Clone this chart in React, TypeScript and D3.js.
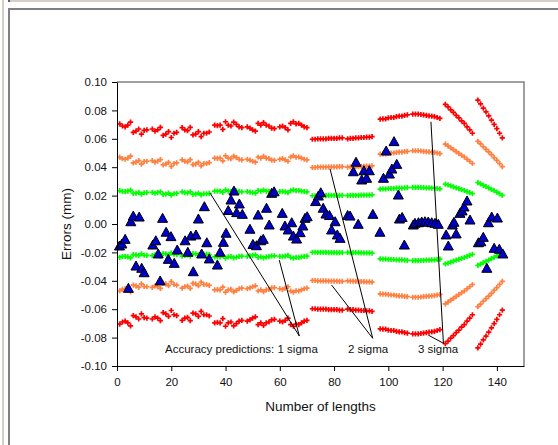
import React, { useEffect, useRef } from 'react'
import * as d3 from 'd3'

const W = 558
const H = 445

// measured errors (blue triangles)
const lengthX = [
  0.9, 1.8, 3.0, 4.2, 5.1, 6.0, 7.0, 8.2, 9.1, 10.0,
  13.2, 14.3, 15.2, 15.9, 16.8, 18.1, 18.9, 19.9, 21.1, 22.2,
  25.1, 26.1, 27.2, 28.1, 29.1, 30.0, 31.2, 32.2, 33.1, 34.0,
  37.0, 38.0, 39.2, 40.2, 41.0, 42.0, 43.1, 44.1, 45.1, 46.2,
  49.0, 50.1, 51.4, 52.0, 53.0, 53.9, 55.1, 56.1, 57.0, 57.9,
  60.9, 61.9, 63.1, 64.4, 65.0, 66.2, 67.5, 68.5, 69.3, 70.1,
  73.2, 74.2, 75.1, 76.0, 77.0, 78.3, 79.1, 80.4, 81.2, 82.2,
  85.0, 85.9, 87.1, 88.1, 88.9, 90.2, 91.0, 92.0, 93.0, 94.3,
  96.9, 98.2, 99.2, 100.4, 101.3, 102.1, 103.1, 103.7, 104.1, 105.1,
  105.9, 109.2, 109.8, 111.1, 112.3, 113.5, 114.7, 116.0, 117.2, 118.4,
  121.3, 122.1, 123.6, 124.2, 125.0, 126.4, 127.2, 127.9, 129.0, 130.1,
  133.2, 134.1, 135.0, 136.3, 136.9, 138.1, 139.0, 140.2, 140.9, 142.2,
]
const errorY = [
  -0.0155, -0.0141, -0.0108, -0.0453, 0.0016, 0.0056, -0.0296, 0.0049, -0.0312, -0.0343,
  -0.0148, -0.0118, -0.0211, -0.0401, 0.004, -0.0058, -0.0249, -0.0089, -0.0277, -0.0183,
  -0.0118, -0.0199, -0.0085, -0.0336, -0.0077, 0.0035, -0.0211, 0.0122, -0.0132, -0.0246,
  -0.0289, -0.0199, -0.0129, -0.0065, 0.0095, 0.0169, 0.0232, 0.008, 0.0141, 0.0068,
  -0.0037, -0.0144, -0.0153, 0.0063, -0.0118, -0.0108, 0.0111, -0.0007, 0.0216, 0.0227,
  0.0075, -0.0014, -0.0042, 0.0009, -0.0085, -0.0106, -0.0061, -0.0014, 0.004, 0.0051,
  0.0158, 0.0197, 0.022, 0.0111, 0.007, 0.006, -0.0042, 0.0016, -0.0077, -0.0101,
  0.006, 0.0056, 0.0368, 0.0435, -0.0002, 0.031, 0.0375, 0.0322, 0.0375, 0.0068,
  -0.0058, 0.0322, 0.0514, 0.0352, 0.0387, 0.058, 0.042, 0.0204, 0.0035, 0.0046,
  -0.0148, -0.0007, 0.0005, 0.0009, 0.0014, 0.0016, 0.0014, 0.0009, 0.0005, -0.0002,
  -0.0077, -0.0155, -0.0007, 0.0012, -0.007, 0.0075, 0.0092, 0.012, 0.0162, 0.0028,
  -0.0132, -0.0125, -0.0094, -0.0312, 0.0009, 0.0049, -0.0171, 0.0042, -0.0178, -0.0211,
]

// predicted accuracy: position and 1-sigma value
const bandX = [
  1, 2, 3, 4, 5, 6, 7, 8, 9, 10, 11,
  13, 14, 15, 16, 17, 18, 19, 20, 21, 22,
  24, 25, 26, 27, 28, 29, 30, 31, 32, 33, 34,
  36, 37, 38, 39, 40, 41, 42, 43, 44, 45, 46,
  48, 49, 50, 51, 52, 53, 54, 55, 56, 57, 58,
  60, 61, 62, 63, 64, 65, 66, 67, 68, 69, 70,
  72, 73, 74, 75, 76, 77, 78, 79, 80, 81, 82, 83,
  85, 86, 87, 88, 89, 90, 91, 92, 93, 94,
  97, 98, 99, 100, 101, 102, 103, 104, 105, 106, 107,
  109, 110, 111, 112, 113, 114, 115, 116, 117, 118, 119,
  121, 122, 123, 124, 125, 126, 127, 128, 129, 130, 131,
  133, 134, 135, 136, 137, 138, 139, 140, 141, 142,
]
const sigma = [
  0.0235, 0.023, 0.0228, 0.0232, 0.0239, 0.0215, 0.0218, 0.0223, 0.0211, 0.022, 0.0221,
  0.0223, 0.0218, 0.0221, 0.0227, 0.0208, 0.0211, 0.0217, 0.0203, 0.0213, 0.0215,
  0.0226, 0.0221, 0.0219, 0.0227, 0.0209, 0.0211, 0.0217, 0.0205, 0.0213, 0.0213, 0.0216,
  0.0232, 0.0231, 0.0232, 0.0222, 0.024, 0.0232, 0.023, 0.0239, 0.0234, 0.0228, 0.0226,
  0.0228, 0.0225, 0.0221, 0.0218, 0.0236, 0.0232, 0.0238, 0.0232, 0.023, 0.0225, 0.0224,
  0.0228, 0.023, 0.0226, 0.0221, 0.0236, 0.024, 0.0235, 0.0236, 0.0232, 0.0228, 0.0226,
  0.0199, 0.0199, 0.02, 0.02, 0.02, 0.02, 0.0201, 0.0201, 0.0201, 0.0201, 0.0202, 0.0202,
  0.02, 0.0201, 0.0201, 0.0202, 0.0202, 0.0203, 0.0203, 0.0204, 0.0204, 0.0205,
  0.0246, 0.0247, 0.0247, 0.0249, 0.025, 0.025, 0.0252, 0.0253, 0.0253, 0.0255, 0.0256,
  0.0258, 0.0258, 0.0258, 0.0257, 0.0256, 0.0255, 0.0254, 0.0253, 0.0252, 0.025, 0.0248,
  0.0281, 0.0275, 0.0268, 0.0262, 0.0255, 0.0249, 0.0242, 0.0236, 0.0228, 0.0221, 0.0213,
  0.0291, 0.0282, 0.0272, 0.0263, 0.0254, 0.0244, 0.0234, 0.0224, 0.0213, 0.0202,
]

const sigmaLevels = [1, 2, 3]
const sigmaColors = ['#00ff00', '#ff8040', '#ff0000']

const xTicks = [0, 20, 40, 60, 80, 100, 120, 140]
const yTicks = [-0.1, -0.08, -0.06, -0.04, -0.02, 0, 0.02, 0.04, 0.06, 0.08, 0.1]

// callouts: label, label start, tip where the lines meet, line start points
const calloutLabels = ['Accuracy predictions: 1 sigma', '2 sigma', '3 sigma']
const calloutTextX = [17.7, 85.1, 110.9]
const calloutTextY = -0.0905
const calloutTips = [[67.2, -0.0789], [94.25, -0.0805], [120.3, -0.084]]
const calloutStarts = [
  [[34.3, 0.0218], [59.8, -0.0254]],
  [[78.5, 0.0389], [79.1, -0.043]],
  [[115.7, 0.072], [114.7, -0.0782]],
]

const FONT = '"Liberation Sans", Arial, sans-serif'

export default function App() {
  const svgRef = useRef<SVGSVGElement>(null)

  useEffect(() => {
    const svg = d3.select(svgRef.current)
    svg.selectAll('*').remove()

    const x = d3.scaleLinear().domain([0, 150]).range([117, 524])
    const y = d3.scaleLinear().domain([-0.1, 0.1]).range([366, 82])

    // window edges
    svg.append('rect').attr('x', 2).attr('y', 0).attr('width', 2).attr('height', H).attr('fill', '#d4d0c8')
    svg.append('rect').attr('x', 8).attr('y', 0).attr('width', W - 8).attr('height', 2).attr('fill', '#d4d0c8')
    svg.append('rect').attr('x', 8).attr('y', 0).attr('width', 2).attr('height', 2).attr('fill', '#606060')
    svg.append('rect').attr('x', 8).attr('y', 8).attr('width', 2).attr('height', H - 8).attr('fill', '#808080')
    svg.append('rect').attr('x', 8).attr('y', 8).attr('width', W - 8).attr('height', 2).attr('fill', '#808080')

    // plot frame top + right
    svg.append('path')
      .attr('d', `M${x(0)},${y(0.1)}H${x(150)}V${y(-0.1)}`)
      .attr('fill', 'none').attr('stroke', '#808080').attr('stroke-width', 1.5)

    // sigma bands
    const bandPts: { px: number; py: number; c: string }[] = []
    sigmaLevels.forEach((k, li) => {
      bandX.forEach((bx, i) => {
        bandPts.push({ px: x(bx), py: y(k * sigma[i]), c: sigmaColors[li] })
        bandPts.push({ px: x(bx), py: y(-k * sigma[i]), c: sigmaColors[li] })
      })
    })
    const a = 2.6
    svg.append('g').selectAll('path').data(bandPts).join('path')
      .attr('d', d => `M${d.px - a},${d.py}h${2 * a}M${d.px},${d.py - a}v${2 * a}`)
      .attr('stroke', d => d.c).attr('stroke-width', 1.7).attr('fill', 'none')

    // callout lines
    const cg = svg.append('g')
    calloutStarts.forEach((starts, i) => {
      starts.forEach(s => {
        cg.append('line')
          .attr('x1', x(s[0])).attr('y1', y(s[1]))
          .attr('x2', x(calloutTips[i][0])).attr('y2', y(calloutTips[i][1]))
          .attr('stroke', '#000').attr('stroke-width', 1)
      })
      cg.append('text')
        .attr('x', x(calloutTextX[i])).attr('y', y(calloutTextY))
        .attr('font-family', FONT).attr('font-size', 11.5).attr('fill', '#111')
        .text(calloutLabels[i])
    })

    // measured errors
    svg.append('g').selectAll('path').data(lengthX).join('path')
      .attr('d', (d, i) => {
        const cx = x(d), cy = y(errorY[i])
        return `M${cx},${cy - 5}L${cx + 5},${cy + 4}L${cx - 5},${cy + 4}Z`
      })
      .attr('fill', '#0000cc').attr('stroke', '#000').attr('stroke-width', 1)

    // axes
    const xAxis = svg.append('g').attr('transform', `translate(0,${y(-0.1)})`)
      .call(d3.axisBottom(x).tickValues(xTicks).tickSize(5).tickSizeOuter(0).tickPadding(7))
    const yAxis = svg.append('g').attr('transform', `translate(${x(0)},0)`)
      .call(d3.axisLeft(y).tickValues(yTicks).tickSize(5).tickSizeOuter(0).tickPadding(5)
        .tickFormat(d => (+d).toFixed(2)))
    ;[xAxis, yAxis].forEach(g => {
      g.attr('font-family', FONT).attr('font-size', 11.5)
      g.selectAll('text').attr('fill', '#111')
      g.selectAll('path,line').attr('stroke', '#000')
    })

    svg.append('text')
      .attr('x', (x(0) + x(150)) / 2).attr('y', 411)
      .attr('text-anchor', 'middle').attr('font-family', FONT).attr('font-size', 13.5).attr('fill', '#111')
      .text('Number of lengths')
    svg.append('text')
      .attr('transform', `translate(71,${(y(0.1) + y(-0.1)) / 2}) rotate(-90)`)
      .attr('text-anchor', 'middle').attr('font-family', FONT).attr('font-size', 13.5).attr('fill', '#111')
      .text('Errors (mm)')
  }, [])

  return (
    <svg ref={svgRef} width={W} height={H}
      style={{ position: 'absolute', left: 0, top: 0, background: '#fff' }} />
  )
}
